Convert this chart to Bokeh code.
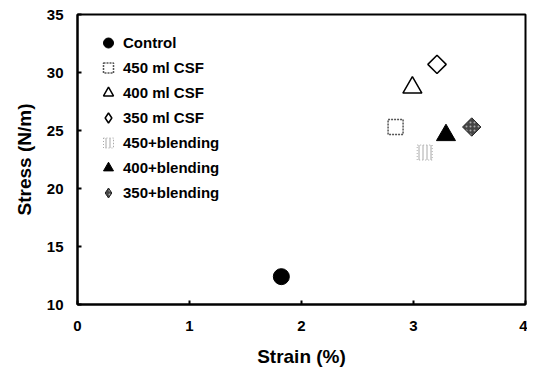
import math
from bokeh.plotting import figure
from bokeh.models import Range1d, Legend, LegendItem, FixedTicker
from bokeh.embed import file_html
from bokeh.resources import INLINE

# data
labels = ["Control", "450 ml CSF", "400 ml CSF", "350 ml CSF",
          "450+blending", "400+blending", "350+blending"]
strain = [1.82, 2.84, 2.99, 3.21, 3.10, 3.29, 3.52]
stress = [12.4, 25.3, 28.7, 30.7, 23.1, 24.6, 25.3]
x_ticks = [0, 1, 2, 3, 4]
y_ticks = [10, 15, 20, 25, 30, 35]

FONT = "Liberation Sans"

p = figure(width=527, height=372, output_backend="svg", toolbar_location=None,
           x_range=Range1d(0, 4), y_range=Range1d(10, 35),
           min_border_left=77, min_border_right=2, min_border_top=14,
           min_border_bottom=68)
p.grid.visible = False
p.outline_line_color = "black"
p.outline_line_width = 2
p.background_fill_color = "white"
p.border_fill_color = "white"

p.xaxis.ticker = FixedTicker(ticks=x_ticks)
p.yaxis.ticker = FixedTicker(ticks=y_ticks)
for ax in (p.xaxis[0], p.yaxis[0]):
    ax.axis_line_width = 2
    ax.major_tick_in = 4
    ax.major_tick_out = 0
    ax.major_tick_line_width = 2
    ax.minor_tick_line_color = None
    ax.major_label_text_font = FONT
    ax.major_label_text_font_style = "bold"
    ax.major_label_text_font_size = "15px"
    ax.major_label_text_color = "black"
    ax.axis_label_text_font = FONT
    ax.axis_label_text_font_style = "bold"
    ax.axis_label_text_font_size = "19px"
    ax.axis_label_text_color = "black"
p.xaxis.axis_label = "Strain (%)"
p.yaxis.axis_label = "Stress (N/m)"
p.xaxis.major_label_standoff = 16
p.yaxis.major_label_standoff = 14
p.xaxis.axis_label_standoff = 12
p.yaxis.axis_label_standoff = 9

rot = math.pi / 4
styles = [
    dict(marker="circle", size=16, fill_color="black", line_color="black"),
    dict(marker="square", size=15, fill_color=None, line_color="#555555",
         line_dash="2 1", line_width=1.5),
    dict(marker="triangle", size=19, fill_color=None, line_color="black",
         line_width=1.5),
    dict(marker="square", size=13, angle=rot, fill_color=None,
         line_color="black", line_width=1.5),
    dict(marker="square", size=15, fill_color=None, line_color="#aaaaaa",
         line_dash="1 2", line_width=1, hatch_pattern="vertical_line",
         hatch_color="#aaaaaa", hatch_scale=4, hatch_weight=1),
    dict(marker="triangle", size=19, fill_color="black", line_color="black"),
    dict(marker="square", size=13, angle=rot, fill_color="#444444",
         line_color="#222222", hatch_pattern="dot", hatch_color="#aaaaaa",
         hatch_scale=4),
]

items = []
for i, lab in enumerate(labels):
    st = styles[i]
    if "angle" in st:
        # legend proxy (drawn underneath, zero size): the legend does not
        # rotate markers, so show a diamond there instead
        proxy_style = {k: v for k, v in st.items() if k not in ("angle", "marker", "size")}
        proxy = p.scatter(x=[strain[i]], y=[stress[i]], marker="diamond",
                          size=0, **proxy_style)
        p.scatter(x=[strain[i]], y=[stress[i]], **st)
        items.append(LegendItem(label=lab, renderers=[proxy]))
    else:
        r = p.scatter(x=[strain[i]], y=[stress[i]], **st)
        items.append(LegendItem(label=lab, renderers=[r]))

legend = Legend(items=items, location=(18, 99), padding=0, margin=0,
                spacing=0, label_height=25, glyph_height=25, glyph_width=26,
                label_standoff=2, border_line_alpha=0, background_fill_alpha=0,
                label_text_font=FONT, label_text_font_style="bold",
                label_text_font_size="15px", label_text_color="black")
p.add_layout(legend, "center")

open("out.html", "w").write(file_html(p, INLINE))
